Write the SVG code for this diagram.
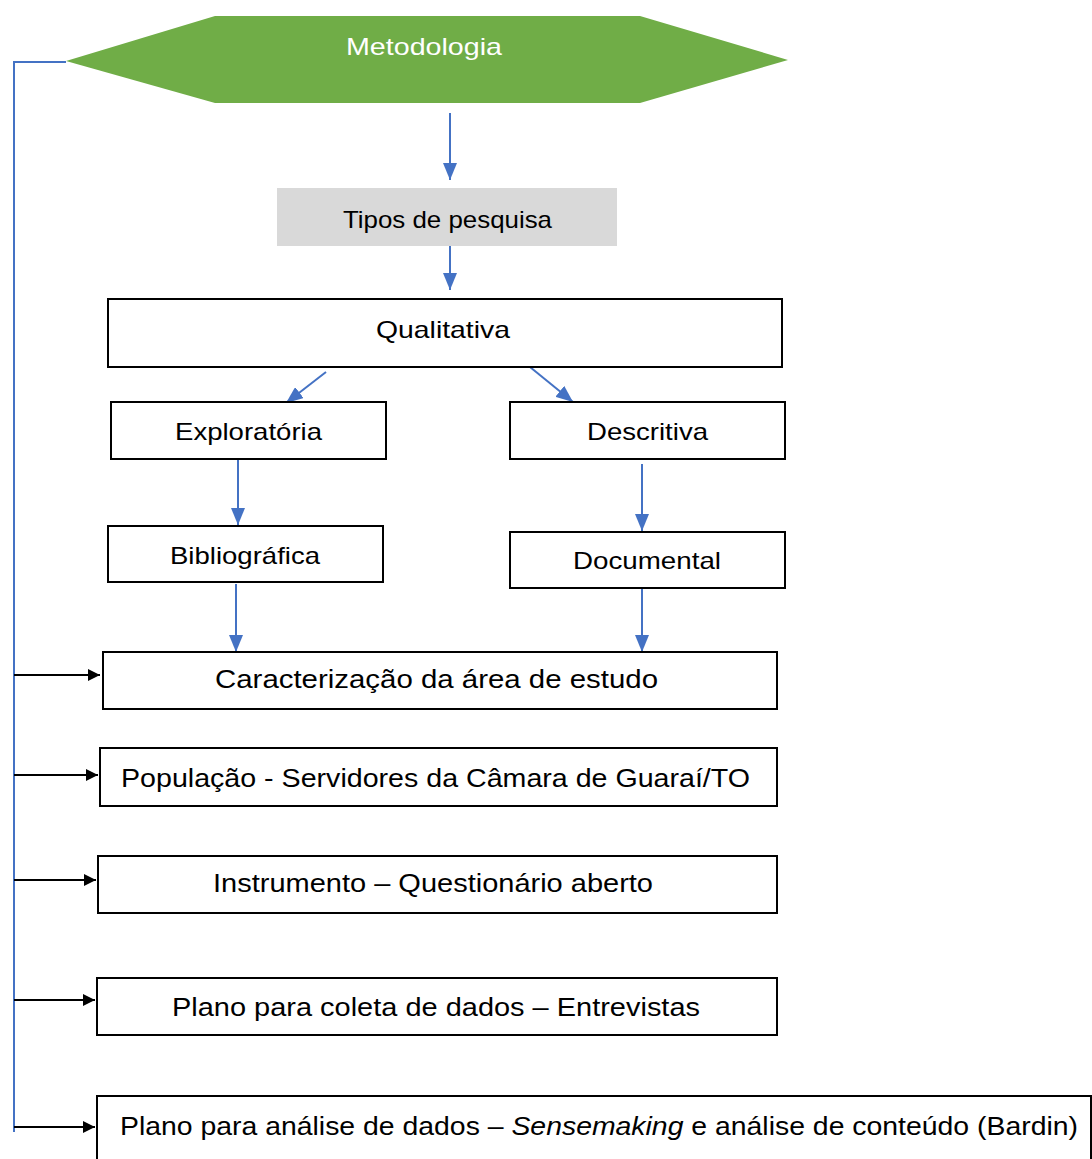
<svg xmlns="http://www.w3.org/2000/svg" width="1092" height="1159" viewBox="0 0 1092 1159">
  <style>
    .box { fill: #ffffff; stroke: #000000; stroke-width: 2; }
    .lbl { font-family: "Liberation Sans Narrow", "Liberation Sans", Arial, sans-serif; font-size: 24px; fill: #000000; text-anchor: start; }
    .blue { stroke: #4472c4; stroke-width: 2; fill: none; }
    .black { stroke: #000000; stroke-width: 2; fill: none; }
  </style>
  <defs>
    <marker id="arrBlue" viewBox="0 0 10 10" refX="10" refY="5" markerWidth="17" markerHeight="14" markerUnits="userSpaceOnUse" orient="auto" preserveAspectRatio="none">
      <path d="M0,0 L10,5 L0,10 Z" fill="#4472c4"/>
    </marker>
    <marker id="arrBlack" viewBox="0 0 10 10" refX="10" refY="5" markerWidth="12" markerHeight="12" markerUnits="userSpaceOnUse" orient="auto" preserveAspectRatio="none">
      <path d="M0,0 L10,5 L0,10 Z" fill="#000000"/>
    </marker>
  </defs>
  <rect width="1092" height="1159" fill="#ffffff"/>

  <!-- connectors -->
  <g id="connectors">
    <path class="blue" d="M66,62 H14 V1132"/>
    <line class="blue" x1="450" y1="113" x2="450" y2="180" marker-end="url(#arrBlue)"/>
    <line class="blue" x1="450" y1="246" x2="450" y2="290" marker-end="url(#arrBlue)"/>
    <line class="blue" x1="326" y1="372" x2="286" y2="403" marker-end="url(#arrBlue)"/>
    <line class="blue" x1="530" y1="367" x2="573" y2="402" marker-end="url(#arrBlue)"/>
    <line class="blue" x1="238" y1="460" x2="238" y2="525" marker-end="url(#arrBlue)"/>
    <line class="blue" x1="642" y1="464" x2="642" y2="531" marker-end="url(#arrBlue)"/>
    <line class="blue" x1="236" y1="584" x2="236" y2="652" marker-end="url(#arrBlue)"/>
    <line class="blue" x1="642" y1="589" x2="642" y2="652" marker-end="url(#arrBlue)"/>
    <line class="black" x1="14" y1="675" x2="100" y2="675" marker-end="url(#arrBlack)"/>
    <line class="black" x1="14" y1="775" x2="98" y2="775" marker-end="url(#arrBlack)"/>
    <line class="black" x1="14" y1="880" x2="96" y2="880" marker-end="url(#arrBlack)"/>
    <line class="black" x1="14" y1="1000" x2="95" y2="1000" marker-end="url(#arrBlack)"/>
    <line class="black" x1="14" y1="1127" x2="95" y2="1127" marker-end="url(#arrBlack)"/>
  </g>

  <g id="metodologia">
    <polygon points="66,61 215,16 640,16 788,60 640,103 215,103" fill="#70ad47"/>
    <text class="lbl" x="346" y="55" style="fill:#ffffff" textLength="156" lengthAdjust="spacingAndGlyphs">Metodologia</text>
  </g>

  <g id="tipos">
    <rect x="277" y="188" width="340" height="58" fill="#d9d9d9"/>
    <text class="lbl" x="343" y="228" textLength="209" lengthAdjust="spacingAndGlyphs">Tipos de pesquisa</text>
  </g>

  <g id="qualitativa">
    <rect class="box" x="108" y="299" width="674" height="68"/>
    <text class="lbl" x="376" y="338" textLength="134" lengthAdjust="spacingAndGlyphs">Qualitativa</text>
  </g>

  <g id="exploratoria">
    <rect class="box" x="111" y="402" width="275" height="57"/>
    <text class="lbl" x="175" y="440" textLength="147" lengthAdjust="spacingAndGlyphs">Exploratória</text>
  </g>

  <g id="descritiva">
    <rect class="box" x="510" y="402" width="275" height="57"/>
    <text class="lbl" x="587" y="440" textLength="121" lengthAdjust="spacingAndGlyphs">Descritiva</text>
  </g>

  <g id="bibliografica">
    <rect class="box" x="108" y="526" width="275" height="56"/>
    <text class="lbl" x="170" y="564" textLength="150" lengthAdjust="spacingAndGlyphs">Bibliográfica</text>
  </g>

  <g id="documental">
    <rect class="box" x="510" y="532" width="275" height="56"/>
    <text class="lbl" x="573" y="569" textLength="148" lengthAdjust="spacingAndGlyphs">Documental</text>
  </g>

  <g id="caracterizacao">
    <rect class="box" x="103" y="652" width="674" height="57"/>
    <text class="lbl" x="215" y="688" style="font-size:26px" textLength="443" lengthAdjust="spacingAndGlyphs">Caracterização da área de  estudo</text>
  </g>

  <g id="populacao">
    <rect class="box" x="100" y="748" width="677" height="58"/>
    <text class="lbl" x="121" y="787" style="font-size:26px" textLength="629" lengthAdjust="spacingAndGlyphs">População - Servidores da Câmara de Guaraí/TO</text>
  </g>

  <g id="instrumento">
    <rect class="box" x="98" y="856" width="679" height="57"/>
    <text class="lbl" x="213" y="892" style="font-size:26px" textLength="440" lengthAdjust="spacingAndGlyphs">Instrumento – Questionário aberto</text>
  </g>

  <g id="coleta">
    <rect class="box" x="97" y="978" width="680" height="57"/>
    <text class="lbl" x="172" y="1016" style="font-size:26px" textLength="528" lengthAdjust="spacingAndGlyphs">Plano para coleta de dados – Entrevistas</text>
  </g>

  <g id="analise">
    <rect class="box" x="97" y="1096" width="994" height="70"/>
    <text class="lbl" x="120" y="1135" style="font-size:26px" textLength="958" lengthAdjust="spacingAndGlyphs">Plano para análise de dados – <tspan font-style="italic">Sensemaking</tspan> e análise de conteúdo (Bardin)</text>
  </g>
</svg>
